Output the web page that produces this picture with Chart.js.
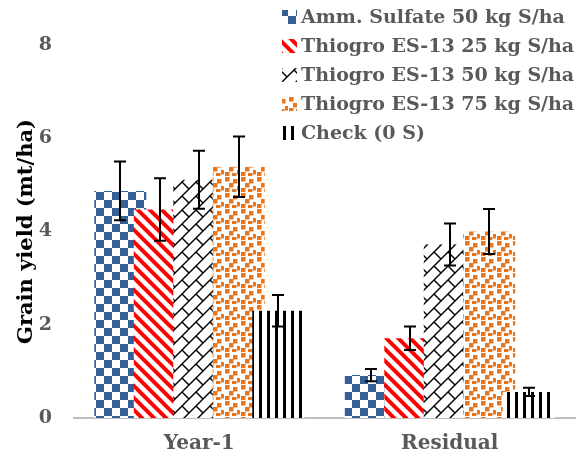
<!DOCTYPE html>
<html>
<head>
<meta charset="utf-8">
<script src="https://cdn.jsdelivr.net/npm/chart.js@4.4.1/dist/chart.umd.min.js"></script>
<style>
  html, body { margin: 0; padding: 0; background: #ffffff; }
  #wrap { width: 588px; height: 464px; }
</style>
</head>
<body>
<div id="wrap"><canvas id="c" width="588" height="464"></canvas></div>
<script>
// Grain yield by sulfur source and rate, first year and residual year
const categories = ['Year-1', 'Residual'];
const seriesNames = [
  'Amm. Sulfate 50 kg S/ha',
  'Thiogro ES-13 25 kg S/ha',
  'Thiogro ES-13 50 kg S/ha',
  'Thiogro ES-13 75 kg S/ha',
  'Check (0 S)'
];
const ammSulfate50 = [4.87, 0.92];
const thiogro25 = [4.47, 1.71];
const thiogro50 = [5.11, 3.72];
const thiogro75 = [5.39, 4.00];
const checkNoS = [2.30, 0.56];

// standard errors (± around each mean)
const ammSulfate50Err = [0.63, 0.13];
const thiogro25Err = [0.67, 0.25];
const thiogro50Err = [0.62, 0.45];
const thiogro75Err = [0.65, 0.48];
const checkNoSErr = [0.34, 0.09];

const yTicks = [0, 2, 4, 6, 8];

const seriesValues = [ammSulfate50, thiogro25, thiogro50, thiogro75, checkNoS];
const seriesErrors = [ammSulfate50Err, thiogro25Err, thiogro50Err, thiogro75Err, checkNoSErr];

const FONT = "'DejaVu Serif', serif";
const GREY_TEXT = '#595959';

const canvas = document.getElementById('c');
const mainCtx = canvas.getContext('2d');

// Fill patterns: each tile has an opaque white ground
function makePattern(size, paint) {
  const t = document.createElement('canvas');
  t.width = size; t.height = size;
  const g = t.getContext('2d');
  g.fillStyle = '#ffffff';
  g.fillRect(0, 0, size, size);
  paint(g, size);
  return mainCtx.createPattern(t, 'repeat');
}

const checkerboard = makePattern(16, (g) => {
  g.fillStyle = '#365f94';
  g.fillRect(0, 0, 8, 8);
  g.fillRect(8, 8, 8, 8);
});

const downDiagonal = makePattern(12, (g, s) => {
  g.strokeStyle = '#ff0000';
  g.lineWidth = 4;
  g.lineCap = 'square';
  for (const o of [-s, 0, s]) {
    g.beginPath();
    g.moveTo(o - 2, -2);
    g.lineTo(o + s + 2, s + 2);
    g.stroke();
  }
});

const diagonalBrick = makePattern(14, (g, s) => {
  g.strokeStyle = '#000000';
  g.lineWidth = 1.4;
  for (const o of [-s, 0, s]) {
    g.beginPath();
    g.moveTo(o - 1, s + 1);
    g.lineTo(o + s + 1, -1);
    g.stroke();
  }
  g.beginPath();
  g.moveTo(0, 0);
  g.lineTo(s / 2, s / 2);
  g.stroke();
});

const confetti = makePattern(16, (g) => {
  g.fillStyle = '#e8761c';
  const spots = [[1, 1], [9, 3], [5, 7], [13, 10], [1, 12], [8, 13]];
  for (const [x, y] of spots) g.fillRect(x, y, 4.5, 4.5);
});

const verticalLines = makePattern(8, (g) => {
  g.fillStyle = '#000000';
  g.fillRect(3, 0, 3, 8);
});

const fills = [checkerboard, downDiagonal, diagonalBrick, confetti, verticalLines];

// Later series are painted over earlier ones where the wide bars overlap,
// then the error bars go on top of everything.
const seriesOrderAndErrors = {
  id: 'seriesOrderAndErrors',
  beforeDatasetsDraw(chart) {
    const g = chart.ctx;
    const area = chart.chartArea;
    chart.data.datasets.forEach((ds, i) => {
      const meta = chart.getDatasetMeta(i);
      g.save();
      g.beginPath();
      g.rect(area.left, area.top - 40, area.right - area.left, area.bottom - area.top + 40);
      g.clip();
      meta.controller.draw();
      g.restore();
    });
    const y = chart.scales.y;
    g.save();
    g.strokeStyle = '#000000';
    g.lineWidth = 2;
    chart.data.datasets.forEach((ds, i) => {
      const meta = chart.getDatasetMeta(i);
      meta.data.forEach((bar, j) => {
        const v = ds.data[j];
        const e = ds.errors[j];
        const x = Math.round(bar.x);
        const yHi = y.getPixelForValue(v + e);
        const yLo = y.getPixelForValue(v - e);
        g.beginPath();
        g.moveTo(x, yHi); g.lineTo(x, yLo);
        g.moveTo(x - 6, yHi); g.lineTo(x + 6, yHi);
        g.moveTo(x - 6, yLo); g.lineTo(x + 6, yLo);
        g.stroke();
      });
    });
    g.restore();
    return false;
  }
};

// Legend stacked in the upper right corner
const cornerLegend = {
  id: 'cornerLegend',
  afterDraw(chart) {
    const g = chart.ctx;
    g.save();
    g.font = 'bold 19px ' + FONT;
    g.textBaseline = 'middle';
    g.textAlign = 'left';
    chart.data.datasets.forEach((ds, i) => {
      const cy = 17 + i * 29;
      g.fillStyle = ds.backgroundColor;
      g.fillRect(282, cy - 7, 15, 14);
      g.fillStyle = GREY_TEXT;
      g.fillText(ds.label, 301, cy + 1);
    });
    g.restore();
  }
};

new Chart(canvas, {
  type: 'bar',
  data: {
    labels: categories,
    datasets: seriesNames.map((name, i) => ({
      label: name,
      data: seriesValues[i],
      errors: seriesErrors[i],
      backgroundColor: fills[i],
      borderWidth: 0,
      categoryPercentage: 0.788,
      barPercentage: 1.316
    }))
  },
  options: {
    responsive: false,
    animation: false,
    devicePixelRatio: 1,
    layout: { padding: { top: 45, right: 13, left: 0, bottom: 0 } },
    plugins: {
      legend: { display: false },
      tooltip: { enabled: false }
    },
    scales: {
      x: {
        grid: { display: false, drawTicks: false },
        border: { display: true, color: '#bfbfbf', width: 2 },
        ticks: {
          color: GREY_TEXT,
          font: { family: FONT, size: 20, weight: 'bold' },
          padding: 14,
          maxRotation: 0
        },
        afterFit(scale) { scale.height = 46; }
      },
      y: {
        min: 0,
        max: 8,
        grid: { display: false, drawTicks: false },
        border: { display: false },
        afterBuildTicks(scale) { scale.ticks = yTicks.map(v => ({ value: v })); },
        ticks: {
          color: GREY_TEXT,
          font: { family: FONT, size: 19, weight: 'bold' },
          padding: 22
        },
        title: {
          display: true,
          text: 'Grain yield (mt/ha)',
          color: '#000000',
          font: { family: FONT, size: 21, weight: 'bold' },
          padding: { top: 14, bottom: 0 }
        },
        afterFit(scale) { scale.width = 74; }
      }
    }
  },
  plugins: [seriesOrderAndErrors, cornerLegend]
});
</script>
</body>
</html>
